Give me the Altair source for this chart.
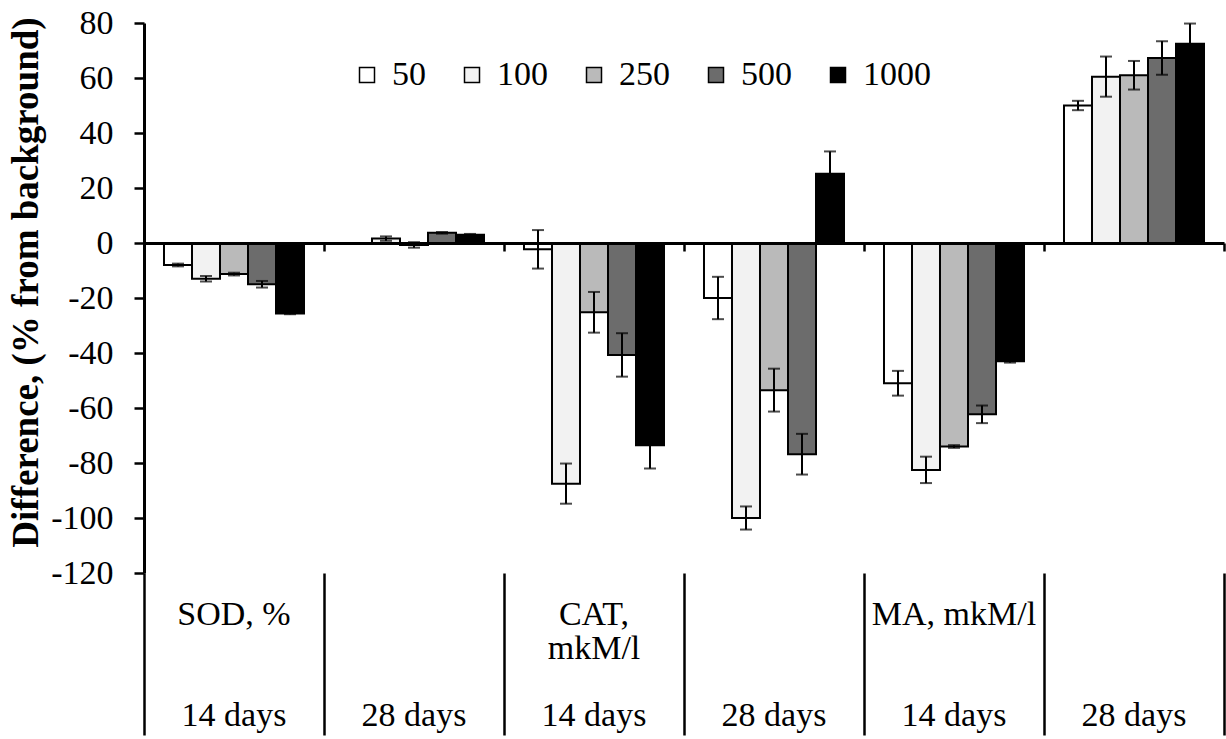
import altair as alt
import pandas as pd

SERIF = "Liberation Serif"

# ---- data ----
groups = ["SOD 14", "SOD 28", "CAT 14", "CAT 28", "MA 14", "MA 28"]
period_labels = ["14 days", "28 days", "14 days", "28 days", "14 days", "28 days"]
index_labels = ["SOD, %", "", "CAT,\nmkM/l", "", "MA, mkM/l", ""]
doses = ["50", "100", "250", "500", "1000"]
fills = ["#ffffff", "#f2f2f2", "#bababa", "#6c6c6c", "#000000"]

v50 = [-8.0, 0.0, -2.3, -20.0, -51.0, 50.0]
v100 = [-13.0, 1.6, -87.5, -100.0, -82.5, 60.5]
v250 = [-11.3, -0.7, -25.2, -53.5, -74.0, 61.0]
v500 = [-15.0, 3.7, -40.7, -76.8, -62.3, 67.3]
v1000 = [-25.6, 3.0, -73.5, 25.2, -43.0, 72.5]

e50 = [0.5, 0.0, 7.0, 7.7, 4.5, 1.7]
e100 = [1.0, 0.8, 7.3, 4.2, 4.8, 7.3]
e250 = [0.5, 1.0, 7.4, 7.8, 0.5, 5.2]
e500 = [1.2, 0.3, 7.9, 7.4, 3.2, 6.1]
e1000 = [0.3, 0.3, 8.5, 8.1, 0.5, 7.3]

values = dict(zip(doses, [v50, v100, v250, v500, v1000]))
errors = dict(zip(doses, [e50, e100, e250, e500, e1000]))

rows = []
for d in doses:
    for g, v, e in zip(groups, values[d], errors[d]):
        rows.append({"group": g, "dose": d, "value": v, "lo": v - e, "hi": v + e})
df = pd.DataFrame(rows)
labels_df = pd.DataFrame({"group": groups, "period": period_labels, "index": index_labels})

W, H = 1080, 550
FS = 34

# groups fill whole steps (so band extents are the category separators);
# the bars are inset through the offset scale's outer padding
x_scale = alt.Scale(domain=groups, paddingInner=0, paddingOuter=0)
xoff = alt.XOffset("dose:N", sort=doses,
                   scale=alt.Scale(domain=doses, paddingInner=0, paddingOuter=0.714))

sep_axis = alt.Axis(orient="bottom", title=None, labels=False, domain=False,
                    ticks=True, tickBand="extent", tickSize=162, tickWidth=2.5,
                    tickColor="black")
zero_axis = alt.Axis(orient="bottom", offset=-330, title=None, labels=False,
                     domain=True, domainColor="black", domainWidth=3,
                     ticks=True, tickBand="extent", tickSize=8, tickWidth=2.5,
                     tickColor="black", zindex=1)

y_axis = alt.Axis(title="Difference, (% from background)",
                  values=list(range(-120, 81, 20)), grid=False,
                  labelExpr="'' + datum.value",
                  labelFont=SERIF, labelFontSize=FS, labelColor="black",
                  labelPadding=21, tickSize=10, tickWidth=2.5, tickColor="black",
                  domainColor="black", domainWidth=3,
                  titleFont=SERIF, titleFontSize=37, titleFontWeight="bold",
                  titleColor="black", titleX=-118, titleY=259, titleAngle=270,
                  titleAlign="center", titleBaseline="middle")
y_scale = alt.Scale(domain=[-120, 80], nice=False)

bars = alt.Chart(df).mark_bar(stroke="black", strokeWidth=2).encode(
    x=alt.X("group:N", scale=x_scale, axis=sep_axis),
    xOffset=xoff,
    y=alt.Y("value:Q", scale=y_scale, axis=y_axis),
    fill=alt.Fill("dose:N", sort=doses,
                  scale=alt.Scale(domain=doses, range=fills),
                  legend=alt.Legend(orient="none", legendX=206, legendY=35,
                                    direction="horizontal", title=None,
                                    symbolType="square", symbolSize=225,
                                    symbolStrokeColor="black", symbolStrokeWidth=1.5,
                                    labelFont=SERIF, labelFontSize=FS,
                                    labelColor="black", labelOffset=8,
                                    columnPadding=29)),
)

err = alt.Chart(df).mark_rule(color="black", strokeWidth=2).encode(
    x=alt.X("group:N", scale=x_scale, axis=None),
    xOffset=xoff,
    y=alt.Y("lo:Q", scale=y_scale, axis=y_axis),
    y2="hi:Q",
)
cap_lo = alt.Chart(df).mark_tick(color="black", size=12, thickness=2).encode(
    x=alt.X("group:N", scale=x_scale, axis=None),
    xOffset=xoff,
    y=alt.Y("lo:Q", scale=y_scale, axis=y_axis),
)
cap_hi = alt.Chart(df).mark_tick(color="black", size=12, thickness=2).encode(
    x=alt.X("group:N", scale=x_scale, axis=None),
    xOffset=xoff,
    y=alt.Y("hi:Q", scale=y_scale, axis=y_axis),
)

idx_txt = alt.Chart(labels_df).mark_text(
    font=SERIF, fontSize=FS, color="black", baseline="alphabetic",
    align="center", lineBreak="\n", lineHeight=34,
).encode(
    x=alt.X("group:N", scale=x_scale, axis=zero_axis),
    y=alt.value(602),
    text="index:N",
)
day_txt = alt.Chart(labels_df).mark_text(
    font=SERIF, fontSize=FS, color="black", baseline="alphabetic", align="center",
).encode(
    x=alt.X("group:N", scale=x_scale, axis=None),
    y=alt.value(703),
    text="period:N",
)

chart = (
    alt.layer(bars, err, cap_lo, cap_hi, idx_txt, day_txt)
    .resolve_axis(x="independent")
    .properties(width=W, height=H,
                autosize=alt.AutoSizeParams(type="none"),
                padding={"left": 144, "top": 23, "right": 2, "bottom": 166},
                background="white")
    .configure(font=SERIF)
    .configure_axis(labelFont=SERIF, titleFont=SERIF)
    .configure_legend(labelFont=SERIF)
    .configure_text(font=SERIF)
    .configure_view(stroke=None)
)

chart.save("out.html", embed_options={"renderer": "svg", "actions": False})
